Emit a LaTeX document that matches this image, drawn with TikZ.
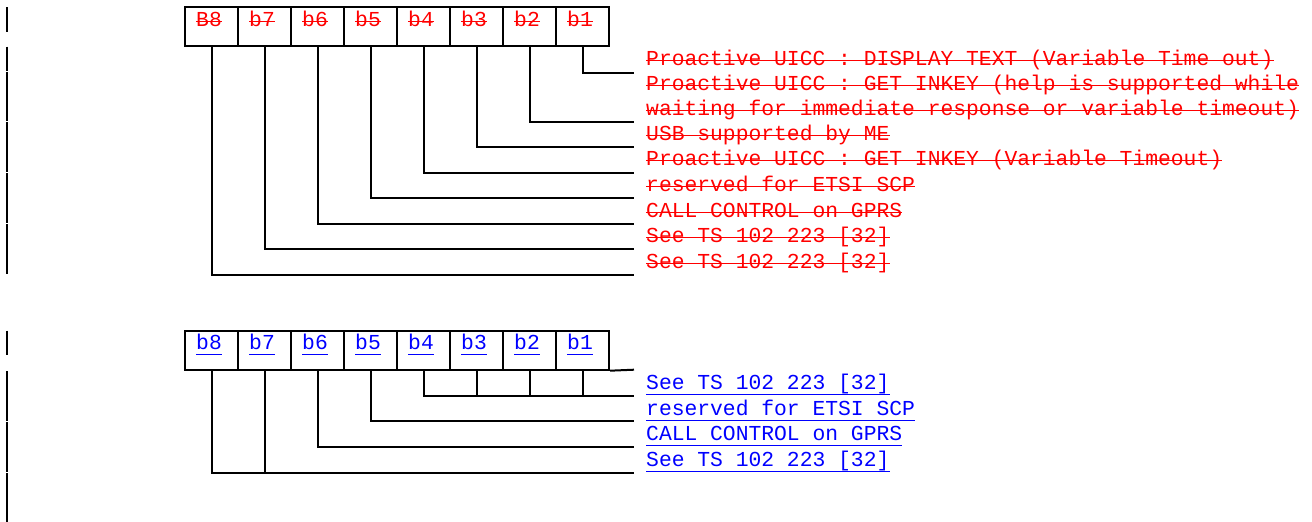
\documentclass[tikz,border=0pt]{standalone}
\usepackage{fontspec}
\newfontfamily\monofnt{Liberation Mono}
\newcommand\txtfont{\monofnt\fontsize{21.33}{25}\selectfont}
\begin{document}
\begin{tikzpicture}[x=1pt,y=-1pt,
  conn/.style={line width=2pt},
  cell/.style={draw,line width=2pt,minimum width=53pt,minimum height=39pt,inner sep=0pt},
  deltxt/.style={anchor=base west,inner sep=0pt,text=red,font=\txtfont},
  instxt/.style={anchor=base west,inner sep=0pt,text=blue,font=\txtfont},
  strikeline/.style={draw=red,line width=1pt},
  ulline/.style={draw=blue,line width=1pt},
  chbar/.style={line width=2pt}]
\useasboundingbox (0,0) rectangle (1312,522);

% change bars
\foreach \a/\b in {7/32,46.5/71,71.8/121.2,122.3/172,173/222.5,224/274,330.7/355,371/421,422.3/471.8,473/522}
  \draw[chbar] (7,\a) -- (7,\b);

% ---------- upper (deleted) table ----------
\foreach \i/\t in {8/B8,7/b7,6/b6,5/b5,4/b4,3/b3,2/b2,1/b1}{
  \node[cell] (c\i) at ({185+53*(8-\i)+26.5},26.2) {};
  \node[deltxt] (l\i) at ({185+53*(8-\i)+11},26) {\t};
}

\node[deltxt] (t1)  at (646,65)    {Proactive UICC : DISPLAY TEXT (Variable Time out)};
\node[deltxt] (t2)  at (646,90)    {Proactive UICC : GET INKEY (help is supported while};
\node[deltxt] (t2b) at (646,115)   {waiting for immediate response or variable timeout)};
\node[deltxt] (t3)  at (646,140)   {USB supported by ME};
\node[deltxt] (t4)  at (646,165.5) {Proactive UICC : GET INKEY (Variable Timeout)};
\node[deltxt] (t5)  at (646,191)   {reserved for ETSI SCP};
\node[deltxt] (t6)  at (646,217)   {CALL CONTROL on GPRS};
\node[deltxt] (t7)  at (646,242)   {See TS 102 223 [32]};
\node[deltxt] (t8)  at (646,268)   {See TS 102 223 [32]};

\foreach \n in {l1,l2,l3,l4,l5,l6,l7,l8,t1,t2,t2b,t3,t4,t5,t6,t7,t8}
  \draw[strikeline] ([yshift=5pt]\n.base west) -- ([yshift=5pt]\n.base east);

\coordinate (e1) at (634,72.7);
\coordinate (e2) at (634,122);
\coordinate (e3) at (634,147);
\coordinate (e4) at (634,172.5);
\coordinate (e5) at (634,198);
\coordinate (e6) at (634,224);
\coordinate (e7) at (634,249);
\coordinate (e8) at (634,275);
\foreach \i in {1,...,8}
  \draw[conn] (c\i.south) |- (e\i);

% ---------- lower (inserted) table ----------
\foreach \i in {8,7,6,5,4,3,2,1}{
  \node[cell] (d\i) at ({185+53*(8-\i)+26.5},350.2) {};
  \node[instxt] (m\i) at ({185+53*(8-\i)+11},349.3) {b\i};
}

\node[instxt] (u1) at (646,389.5) {See TS 102 223 [32]};
\node[instxt] (u2) at (646,415)   {reserved for ETSI SCP};
\node[instxt] (u3) at (646,440.5) {CALL CONTROL on GPRS};
\node[instxt] (u4) at (646,466)   {See TS 102 223 [32]};

\foreach \n in {m1,m2,m3,m4,m5,m6,m7,m8,u1,u2,u3,u4}
  \draw[ulline] ([yshift=-5pt]\n.base west) -- ([yshift=-5pt]\n.base east);

\coordinate (f0) at (634,369.7);
\coordinate (f4) at (634,396);
\coordinate (f5) at (634,420.7);
\coordinate (f6) at (634,446.7);
\coordinate (f8) at (634,472.7);
\draw[conn] (d1.south east) -- (f0);
\draw[conn] (d4.south) |- (f4);
\foreach \i in {3,2,1}
  \draw[conn] (d\i.south) -- (d\i.south |- f4);
\draw[conn] (d5.south) |- (f5);
\draw[conn] (d6.south) |- (f6);
\draw[conn] (d8.south) |- (f8);
\draw[conn] (d7.south) -- (d7.south |- f8);
\end{tikzpicture}
\end{document}
